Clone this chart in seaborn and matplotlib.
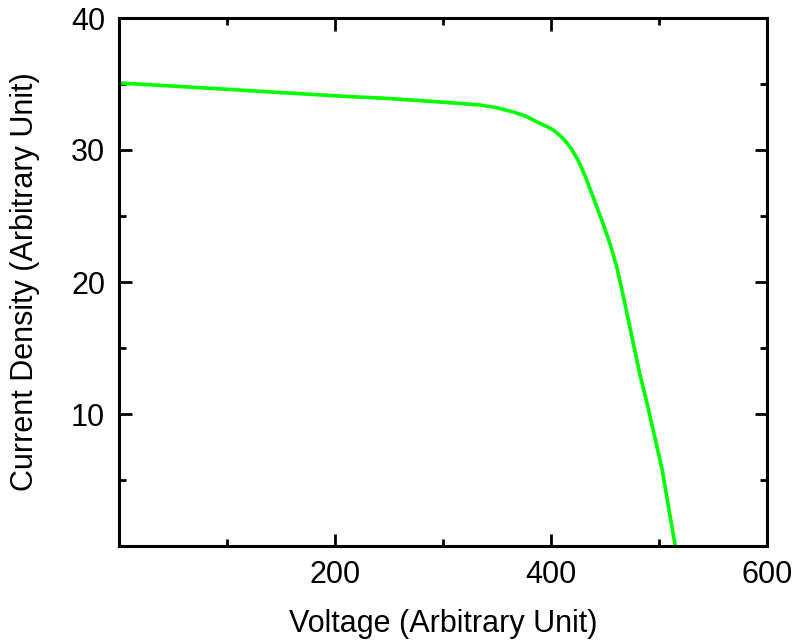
import matplotlib
matplotlib.use("Agg")
import matplotlib.pyplot as plt
import seaborn as sns
import pandas as pd
from matplotlib.ticker import MultipleLocator, FixedLocator

voltage = [0, 50, 100, 150, 214, 242, 297, 334, 350, 365, 377, 387, 395, 402, 410, 418, 425, 432, 439, 448, 455, 461, 467, 473, 482, 490, 503, 515]
current = [35.08, 34.84, 34.6, 34.35, 34.04, 33.94, 33.64, 33.41, 33.2, 32.88, 32.55, 32.12, 31.82, 31.52, 30.98, 30.2, 29.24, 27.95, 26.44, 24.47, 22.8, 21.1, 18.9, 16.59, 13.11, 10.45, 5.76, 0.0]

x_ticks = [200, 400, 600]
y_ticks = [10, 20, 30, 40]

sns.set_style("white")
plt.rcParams['font.family'] = ['Liberation Sans', 'DejaVu Sans']
plt.rcParams['text.color'] = 'black'
plt.rcParams['axes.labelcolor'] = 'black'
plt.rcParams['xtick.color'] = 'black'
plt.rcParams['ytick.color'] = 'black'

df = pd.DataFrame({"Voltage": voltage, "Current": current})

fig = plt.figure(figsize=(7.95, 6.44), dpi=100)
ax = fig.add_axes([119/795, 1 - 546/644, (767-119)/795, (546-18)/644])
sns.lineplot(data=df, x="Voltage", y="Current", ax=ax, color="#00ff00", linewidth=2.6, sort=False)

ax.set_xlim(0, 600)
ax.set_ylim(0, 40)
ax.xaxis.set_major_locator(FixedLocator(x_ticks))
ax.yaxis.set_major_locator(FixedLocator(y_ticks))
ax.xaxis.set_minor_locator(MultipleLocator(100))
ax.yaxis.set_minor_locator(MultipleLocator(5))
ax.tick_params(which='both', direction='in', top=True, right=True, bottom=True, left=True,
               width=2, color='black', labelcolor='black', labelsize=22, pad=10)
ax.tick_params(which='major', length=9)
ax.tick_params(which='minor', length=5)
for s in ax.spines.values():
    s.set_linewidth(2.2)
    s.set_color('black')
ax.set_xlabel("Voltage (Arbitrary Unit)", fontsize=22, labelpad=14, color='black')
ax.set_ylabel("Current Density (Arbitrary Unit)", fontsize=22, labelpad=22, color='black')

fig.savefig("out.png", dpi=100)
